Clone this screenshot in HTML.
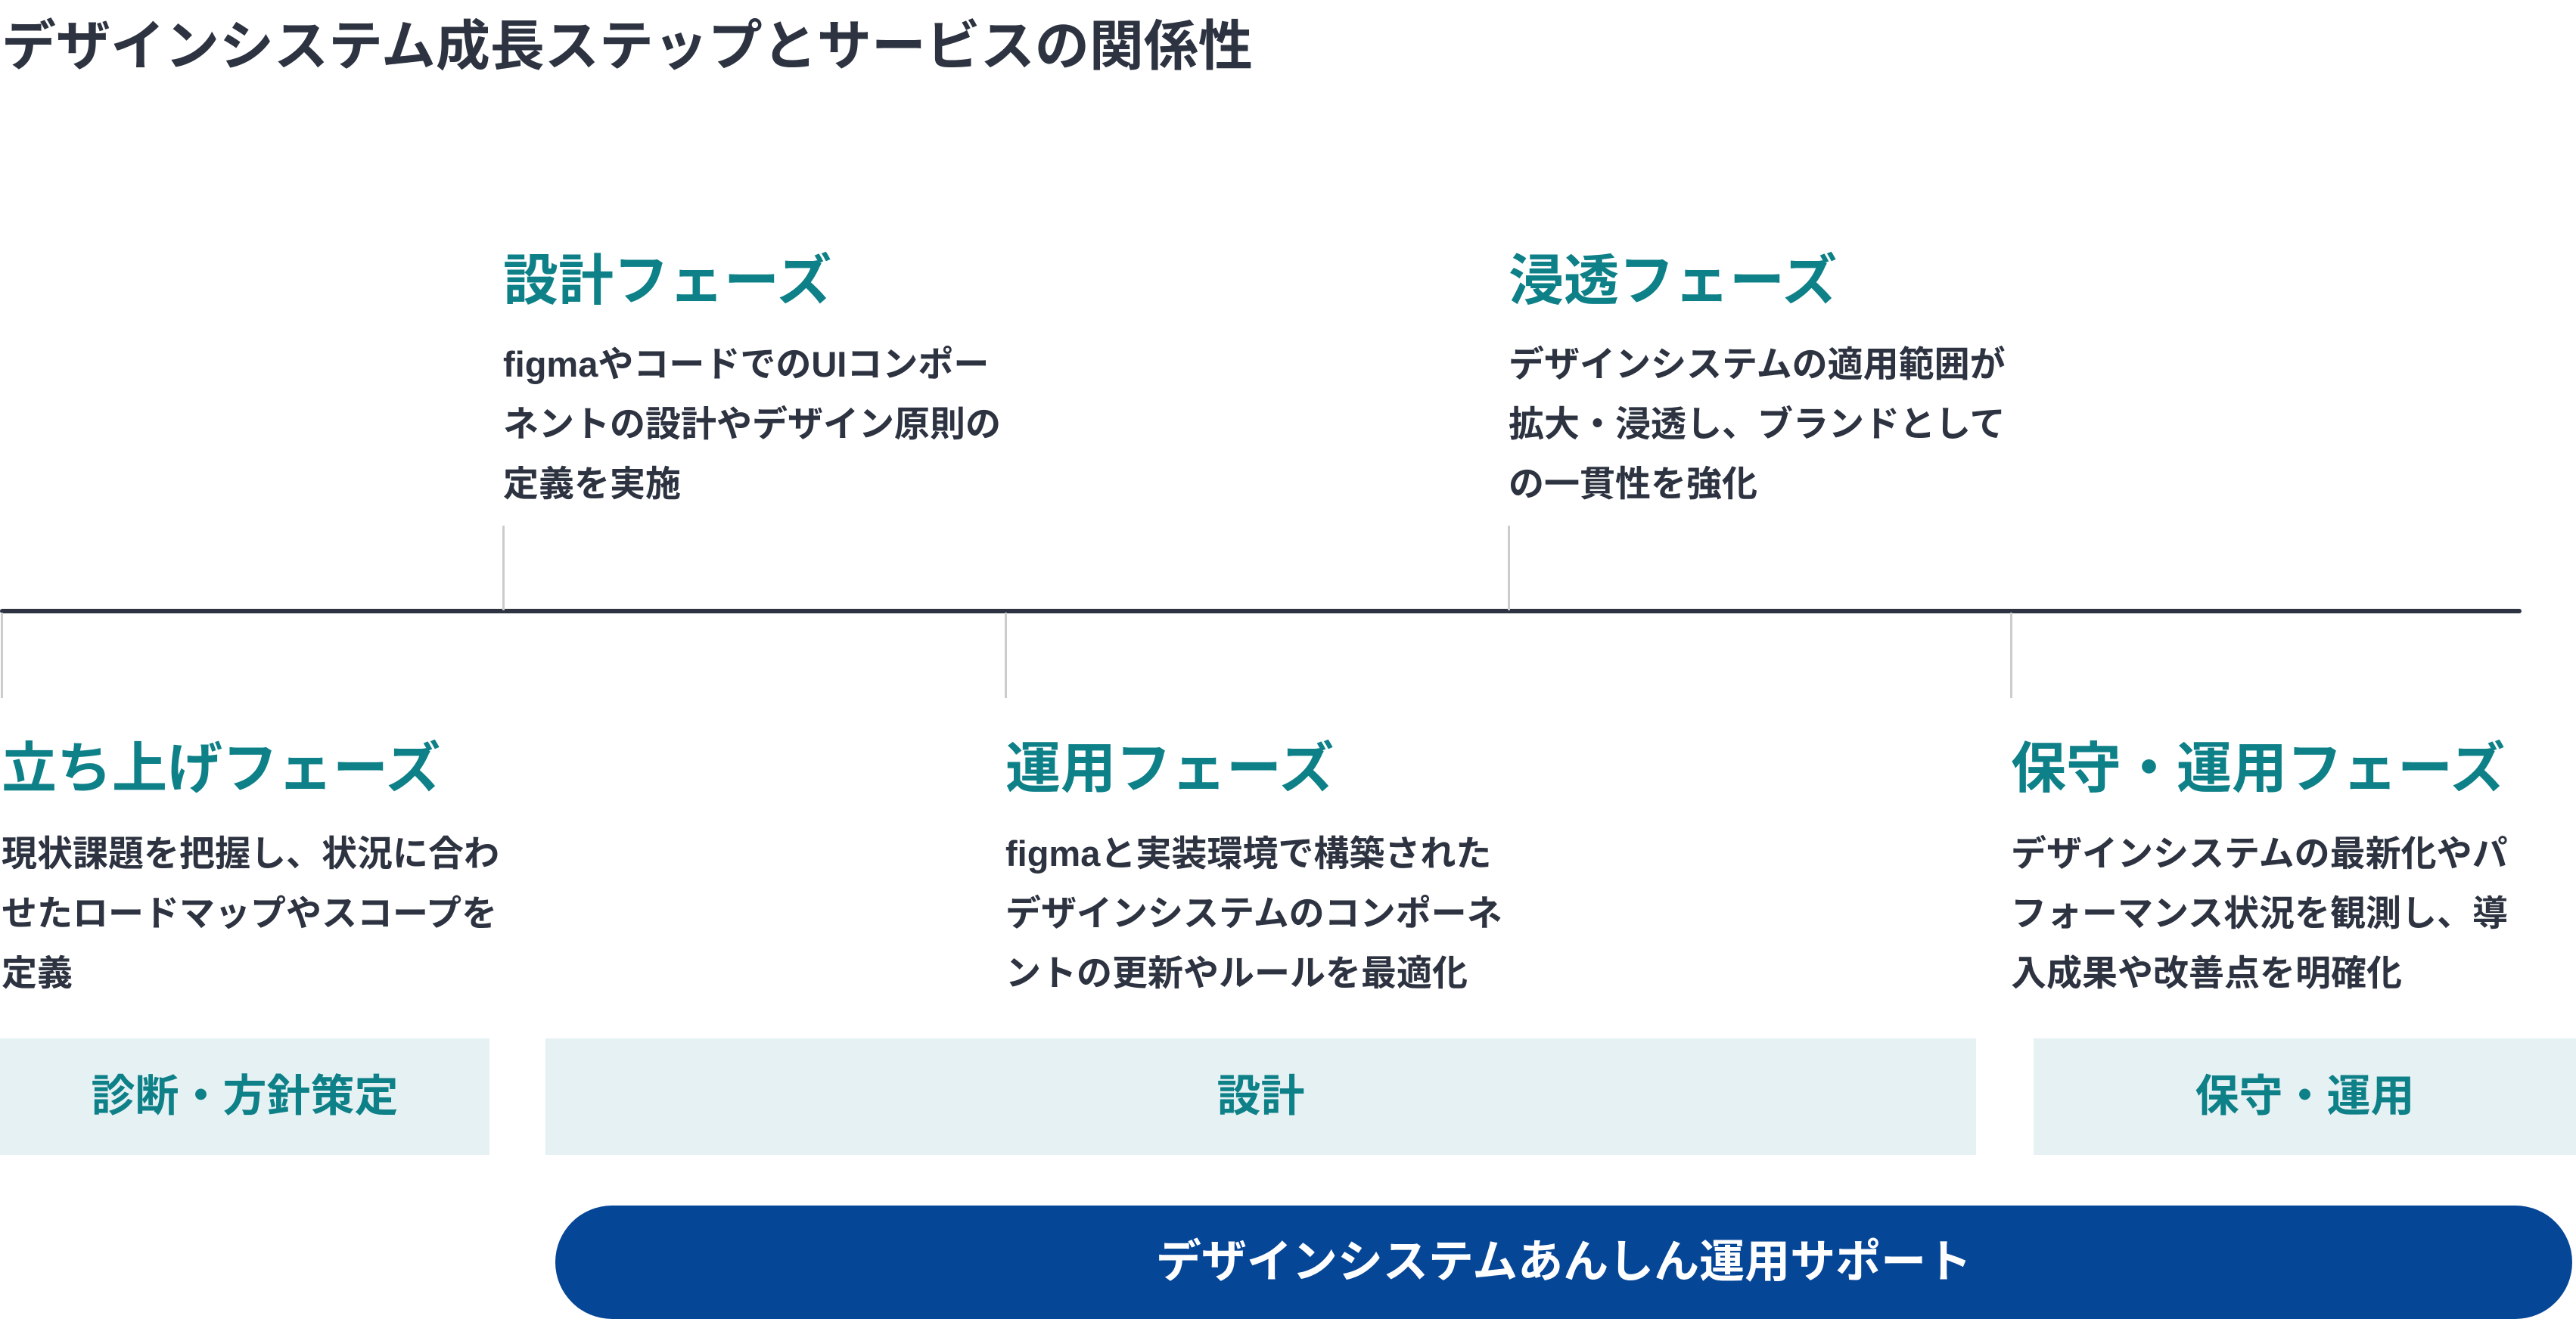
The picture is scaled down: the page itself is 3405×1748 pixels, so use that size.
<!DOCTYPE html>
<html><head><meta charset="utf-8"><style>
body{margin:0;width:3405px;height:1748px;background:#fff;position:relative;overflow:hidden;font-family:"Liberation Sans","Noto Sans CJK JP",sans-serif;font-weight:700;color:#2d3340}
div{position:absolute;white-space:nowrap}
.t{font-size:72px;left:2px;top:14px;line-height:96px}
.h{color:#0e8088;font-size:73px;line-height:90px}
.b{font-size:47px;line-height:79px;color:#2d3340}
.v{width:3px;background:#ccc}
.box{background:#e6f1f3;color:#0e8088;font-size:58px;text-align:center;top:1373px;height:154px;line-height:154px}
</style></head><body>
<div class="t">デザインシステム成長ステップとサービスの関係性</div>
<div style="left:0;top:805px;width:3333px;height:6px;background:#2d3340;border-radius:3px"></div>
<div class="v" style="left:664px;top:695px;height:112px"></div>
<div class="v" style="left:1993px;top:695px;height:112px"></div>
<div class="v" style="left:1px;top:810px;height:113px"></div>
<div class="v" style="left:1328px;top:810px;height:113px"></div>
<div class="v" style="left:2657px;top:810px;height:113px"></div>

<div class="h" style="left:665px;top:327px">設計フェーズ</div>
<div class="b" style="left:665px;top:442px">figmaやコードでのUIコンポー<br>ネントの設計やデザイン原則の<br>定義を実施</div>
<div class="h" style="left:1994px;top:327px">浸透フェーズ</div>
<div class="b" style="left:1994px;top:442px">デザインシステムの適用範囲が<br>拡大・浸透し、ブランドとして<br>の一貫性を強化</div>

<div class="h" style="left:2px;top:972px">立ち上げフェーズ</div>
<div class="b" style="left:2px;top:1089px">現状課題を把握し、状況に合わ<br>せたロードマップやスコープを<br>定義</div>
<div class="h" style="left:1329px;top:972px">運用フェーズ</div>
<div class="b" style="left:1329px;top:1089px">figmaと実装環境で構築された<br>デザインシステムのコンポーネ<br>ントの更新やルールを最適化</div>
<div class="h" style="left:2658px;top:972px">保守・運用フェーズ</div>
<div class="b" style="left:2658px;top:1089px">デザインシステムの最新化やパ<br>フォーマンス状況を観測し、導<br>入成果や改善点を明確化</div>

<div class="box" style="left:0;width:647px">診断・方針策定</div>
<div class="box" style="left:721px;width:1891px">設計</div>
<div class="box" style="left:2688px;width:717px">保守・運用</div>

<div style="left:734px;top:1594px;width:2666px;height:150px;background:#064697;border-radius:75px;color:#fff;font-size:60px;text-align:center;line-height:150px">デザインシステムあんしん運用サポート</div>
</body></html>
